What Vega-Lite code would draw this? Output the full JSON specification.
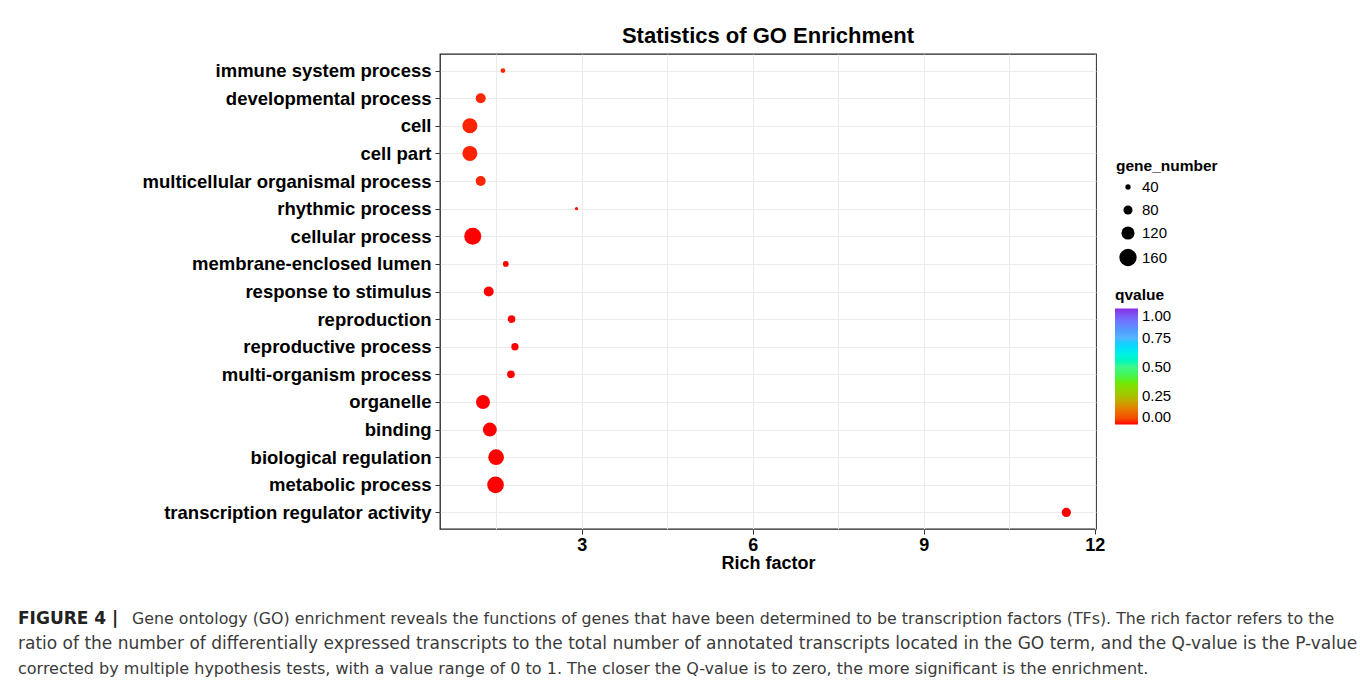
{
  "$schema": "https://vega.github.io/schema/vega-lite/v6.json",
  "background": "white",
  "padding": {"left": 18, "top": 24, "right": 5, "bottom": 0},
  "config": {
    "font": "Liberation Sans",
    "view": {"stroke": "#222222", "strokeWidth": 1.3}
  },
  "columns": 1,
  "align": "none",
  "spacing": 34,
  "resolve": {
    "scale": {"color": "independent", "size": "independent"},
    "legend": {"color": "independent", "size": "independent"}
  },
  "concat": [
    {
      "width": 656,
      "height": 475,
      "title": {"text": "Statistics of GO Enrichment", "fontSize": 22, "fontWeight": "bold", "anchor": "middle", "offset": 6, "color": "#000000"},
      "data": {
        "values": [
          {"term": "immune system process", "rich_factor": 1.62, "gene_number": 33, "qvalue": 0.015},
          {"term": "developmental process", "rich_factor": 1.23, "gene_number": 89, "qvalue": 0.015},
          {"term": "cell", "rich_factor": 1.04, "gene_number": 138, "qvalue": 0.012},
          {"term": "cell part", "rich_factor": 1.04, "gene_number": 138, "qvalue": 0.012},
          {"term": "multicellular organismal process", "rich_factor": 1.23, "gene_number": 89, "qvalue": 0.015},
          {"term": "rhythmic process", "rich_factor": 2.91, "gene_number": 8, "qvalue": 0.005},
          {"term": "cellular process", "rich_factor": 1.09, "gene_number": 157, "qvalue": 0.0},
          {"term": "membrane-enclosed lumen", "rich_factor": 1.67, "gene_number": 45, "qvalue": 0.0},
          {"term": "response to stimulus", "rich_factor": 1.37, "gene_number": 89, "qvalue": 0.0},
          {"term": "reproduction", "rich_factor": 1.77, "gene_number": 66, "qvalue": 0.0},
          {"term": "reproductive process", "rich_factor": 1.83, "gene_number": 62, "qvalue": 0.0},
          {"term": "multi-organism process", "rich_factor": 1.76, "gene_number": 66, "qvalue": 0.0},
          {"term": "organelle", "rich_factor": 1.27, "gene_number": 128, "qvalue": 0.0},
          {"term": "binding", "rich_factor": 1.39, "gene_number": 128, "qvalue": 0.0},
          {"term": "biological regulation", "rich_factor": 1.5, "gene_number": 145, "qvalue": 0.0},
          {"term": "metabolic process", "rich_factor": 1.49, "gene_number": 154, "qvalue": 0.0},
          {"term": "transcription regulator activity", "rich_factor": 11.5, "gene_number": 82, "qvalue": 0.0}
        ]
      },
      "mark": {"type": "circle", "opacity": 1},
      "encoding": {
        "y": {
          "field": "term", "type": "nominal", "sort": null,
          "scale": {"type": "point", "padding": 0.6},
          "axis": {
            "title": null, "labelFontSize": 18.5, "labelFontWeight": "bold", "labelColor": "#000000",
            "tickSize": 5, "tickColor": "#333333", "labelPadding": 4, "domain": false,
            "grid": true, "gridColor": "#EBEBEB", "gridWidth": 1, "minExtent": 421, "labelLimit": 420
          }
        },
        "x": {
          "field": "rich_factor", "type": "quantitative",
          "scale": {"domain": [0.516, 12.02], "nice": false, "zero": false},
          "axis": {
            "values": [1.5, 3, 4.5, 6, 7.5, 9, 10.5, 12],
            "labelExpr": "datum.value % 3 === 0 ? datum.label : ''",
            "tickOpacity": {"condition": {"test": "datum.value % 3 === 0", "value": 1}, "value": 0},
            "tickSize": 5, "tickColor": "#333333", "domain": false,
            "grid": true, "gridColor": "#EBEBEB", "gridWidth": 1,
            "labelFontSize": 18, "labelFontWeight": "bold", "labelColor": "#000000", "labelPadding": 2,
            "title": "Rich factor", "titleFontSize": 18, "titleFontWeight": "bold", "titleColor": "#000000", "titlePadding": 0
          }
        },
        "size": {
          "field": "gene_number", "type": "quantitative",
          "scale": {"type": "pow", "exponent": 2, "domain": [0, 160], "range": [10, 299]},
          "legend": {
            "title": "gene_number", "values": [40, 80, 120, 160], "titleFontSize": 15.5, "titleFontWeight": "bold",
            "labelFontSize": 15, "labelColor": "#000000", "titleColor": "#000000",
            "symbolFillColor": "#000000", "symbolStrokeWidth": 0, "symbolType": "circle", "symbolOpacity": 1,
            "rowPadding": 7, "symbolOffset": 3, "labelOffset": 5,
            "orient": "none", "legendX": 676, "legendY": 105
          }
        },
        "color": {
          "field": "qvalue", "type": "quantitative",
          "scale": {
            "domain": [0, 1],
            "range": ["#FF0000", "#E87400", "#A4C400", "#5CF000", "#3CF88C", "#2EF0EE", "#55B4FF", "#6E7CFF", "#8A2BE2"]
          },
          "legend": {
            "title": "qvalue", "values": [0, 0.25, 0.5, 0.75, 1], "format": ".2f",
            "gradientLength": 116, "gradientThickness": 23, "titleFontSize": 15.5, "titleFontWeight": "bold",
            "labelFontSize": 15, "labelColor": "#000000", "titleColor": "#000000", "labelOffset": 4,
            "orient": "none", "legendX": 675, "legendY": 234
          }
        }
      }
    },
    {
      "width": 800,
      "height": 74,
      "view": {"stroke": null},
      "data": {
        "values": [
          {"line": 1, "part": "head", "text": "FIGURE 4 |"},
          {"line": 1, "part": "body", "text": "Gene ontology (GO) enrichment reveals the functions of genes that have been determined to be transcription factors (TFs). The rich factor refers to the"},
          {"line": 2, "part": "body", "text": "ratio of the number of differentially expressed transcripts to the total number of annotated transcripts located in the GO term, and the Q-value is the P-value"},
          {"line": 3, "part": "body", "text": "corrected by multiple hypothesis tests, with a value range of 0 to 1. The closer the Q-value is to zero, the more significant is the enrichment."}
        ]
      },
      "encoding": {
        "y": {"field": "line", "type": "ordinal", "scale": {"type": "point", "padding": 0.5}, "axis": null},
        "text": {"field": "text"}
      },
      "layer": [
        {
          "transform": [{"filter": "datum.part === 'head'"}],
          "mark": {"type": "text", "x": 0, "dx": -422, "align": "left", "baseline": "middle", "font": "DejaVu Sans", "fontSize": 17, "fontWeight": "bold", "color": "#222222"}
        },
        {
          "transform": [{"filter": "datum.part === 'body' && datum.line === 1"}],
          "mark": {"type": "text", "x": 0, "dx": -308, "align": "left", "baseline": "middle", "font": "DejaVu Sans", "fontSize": 15.8, "color": "#3a3a3a"}
        },
        {
          "transform": [{"filter": "datum.part === 'body' && datum.line === 2"}],
          "mark": {"type": "text", "x": 0, "dx": -422, "align": "left", "baseline": "middle", "font": "DejaVu Sans", "fontSize": 17, "color": "#3a3a3a"}
        },
        {
          "transform": [{"filter": "datum.part === 'body' && datum.line === 3"}],
          "mark": {"type": "text", "x": 0, "dx": -422, "align": "left", "baseline": "middle", "font": "DejaVu Sans", "fontSize": 16, "color": "#3a3a3a"}
        }
      ]
    }
  ]
}
